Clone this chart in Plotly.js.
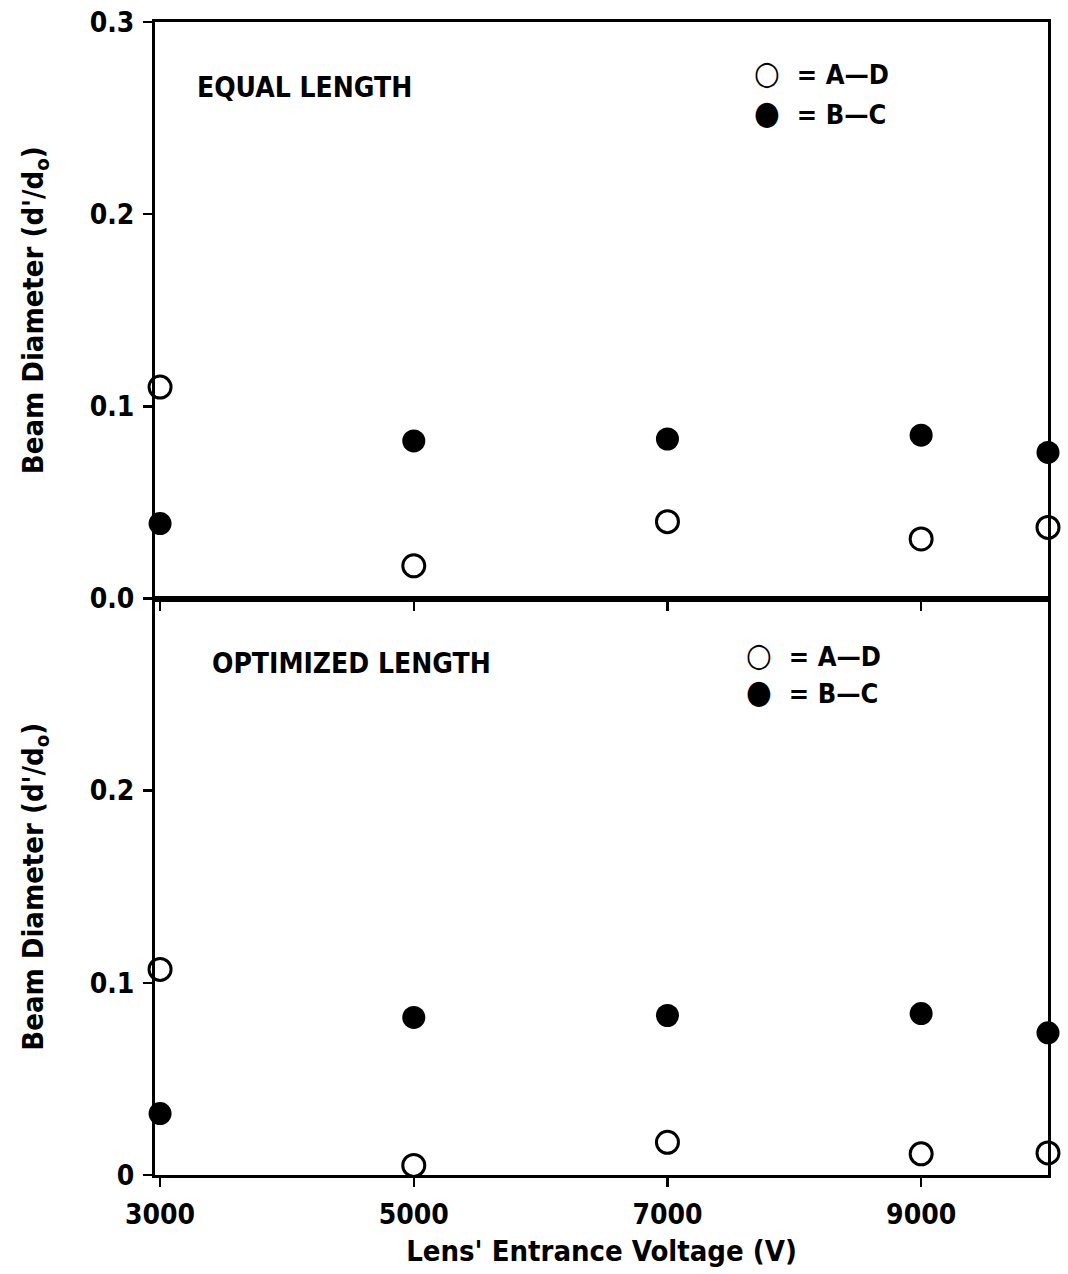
<!DOCTYPE html>
<html>
<head>
<meta charset="utf-8">
<script src="https://cdn.plot.ly/plotly-3.0.1.min.js"></script>
<style>html,body{margin:0;padding:0;background:#fff;}#chart{width:1068px;height:1274px;}</style>
</head>
<body>
<div id="chart"></div>
<script>
// Data
const voltage = [3000, 5000, 7000, 9000, 10000];
const equalAD = [0.110, 0.017, 0.040, 0.031, 0.037];
const equalBC = [0.039, 0.082, 0.083, 0.085, 0.076];
const optAD = [0.107, 0.005, 0.017, 0.011, 0.0115];
const optBC = [0.032, 0.082, 0.083, 0.084, 0.074];
const xTicks = [3000, 5000, 7000, 9000];
const xTickText = ['3000', '5000', '7000', '9000'];
const yTopTicks = [0, 0.1, 0.2, 0.3];
const yTopTickText = ['0.0', '0.1', '0.2', '0.3'];
const yBotTicks = [0, 0.1, 0.2];
const yBotTickText = ['0', '0.1', '0.2'];
const seriesNames = ['A\u2014D', 'B\u2014C'];
const panelLabels = ['EQUAL LENGTH', 'OPTIMIZED LENGTH'];

const FONT = 'DejaVu Sans Condensed, DejaVu Sans, sans-serif';
const openMarker = {symbol: 'circle-open', size: 22, color: '#000', line: {width: 3, color: '#000'}};
const fillMarker = {symbol: 'circle', size: 23, color: '#000', line: {width: 0}};

const traces = [
  {x: voltage, y: equalAD, xaxis: 'x2', yaxis: 'y2', mode: 'markers', marker: openMarker, name: seriesNames[0], cliponaxis: false},
  {x: voltage, y: equalBC, xaxis: 'x2', yaxis: 'y2', mode: 'markers', marker: fillMarker, name: seriesNames[1], cliponaxis: false},
  {x: voltage, y: optAD, xaxis: 'x', yaxis: 'y', mode: 'markers', marker: openMarker, name: seriesNames[0], cliponaxis: false},
  {x: voltage, y: optBC, xaxis: 'x', yaxis: 'y', mode: 'markers', marker: fillMarker, name: seriesNames[1], cliponaxis: false}
];

const tf = (s) => ({family: FONT, size: s, color: '#000', weight: 'bold'});
const axisCommon = {showline: true, linecolor: '#000', linewidth: 3, mirror: true, ticks: 'outside', ticklen: 9, tickwidth: 2.5, tickcolor: '#000', showgrid: false, zeroline: false, tickfont: tf(28), ticklabelstandoff: 3};
const xRange = [2960, 10000];

// legend built as text annotations (symbol glyph + label)
const legendAnn = (x, y, glyph, label) => ({
  text: '<span style="font-size:33px">' + glyph + '</span>\u00A0 = ' + label,
  xref: 'paper', yref: 'paper', x: x, y: y, xanchor: 'left', yanchor: 'middle', showarrow: false, font: tf(27)
});

const layout = {
  width: 1068, height: 1274,
  margin: {l: 155, r: 20, t: 22, b: 99},
  paper_bgcolor: '#fff', plot_bgcolor: '#fff',
  font: {family: FONT, color: '#000'},
  showlegend: false,
  xaxis: Object.assign({}, axisCommon, {domain: [0, 1], anchor: 'y', range: xRange, tickvals: xTicks, ticktext: xTickText,
    title: {text: "Lens' Entrance Voltage (V)", font: tf(29), standoff: 12}}),
  yaxis: Object.assign({}, axisCommon, {domain: [0, 0.5], anchor: 'x', range: [0, 0.3], tickvals: yBotTicks, ticktext: yBotTickText,
    title: {text: "Beam Diameter (d'/d<sub>o</sub>)", font: tf(29), standoff: 38}}),
  xaxis2: Object.assign({}, axisCommon, {domain: [0, 1], anchor: 'y2', range: xRange, tickvals: xTicks, showticklabels: false, matches: 'x'}),
  yaxis2: Object.assign({}, axisCommon, {domain: [0.5, 1], anchor: 'x2', range: [0, 0.3], tickvals: yTopTicks, ticktext: yTopTickText,
    title: {text: "Beam Diameter (d'/d<sub>o</sub>)", font: tf(29), standoff: 38}}),
  annotations: [
    {text: panelLabels[0], xref: 'paper', yref: 'paper', x: 0.045, y: 0.943, xanchor: 'left', yanchor: 'middle', showarrow: false, font: tf(28)},
    {text: panelLabels[1], xref: 'paper', yref: 'paper', x: 0.062, y: 0.444, xanchor: 'left', yanchor: 'middle', showarrow: false, font: tf(28)},
    legendAnn(0.668, 0.9566, '\u25CB', seriesNames[0]),
    legendAnn(0.668, 0.9219, '\u25CF', seriesNames[1]),
    legendAnn(0.660, 0.4515, '\u25CB', seriesNames[0]),
    legendAnn(0.660, 0.4190, '\u25CF', seriesNames[1])
  ]
};

Plotly.newPlot('chart', traces, layout, {displayModeBar: false, staticPlot: true});
</script>
</body>
</html>
